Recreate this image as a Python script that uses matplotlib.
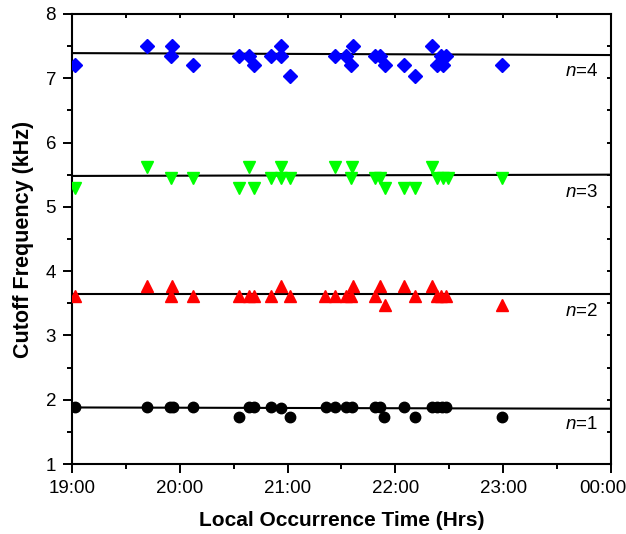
import matplotlib.pyplot as plt
import numpy as np
from matplotlib.ticker import MultipleLocator
from matplotlib.transforms import ScaledTranslation

plt.rcParams['font.family'] = ['Liberation Sans', 'DejaVu Sans']
plt.rcParams['mathtext.fontset'] = 'custom'
plt.rcParams['mathtext.rm'] = 'Liberation Sans'
plt.rcParams['mathtext.it'] = 'Liberation Sans:italic'

# hours after midnight of the day (19 = 19:00, 24 = 00:00)
t4 = [19.03, 19.70, 19.93, 19.92, 20.12, 20.55, 20.64, 20.69, 20.85, 20.94, 20.94, 21.02,
      21.44, 21.54, 21.61, 21.59, 21.81, 21.86, 21.90, 22.08, 22.18, 22.34, 22.42, 22.47,
      22.39, 22.44, 22.99]
f4 = [7.20, 7.50, 7.50, 7.35, 7.20, 7.35, 7.35, 7.20, 7.35, 7.50, 7.35, 7.04,
      7.35, 7.35, 7.50, 7.20, 7.35, 7.35, 7.20, 7.20, 7.04, 7.50, 7.35, 7.35,
      7.20, 7.20, 7.20]

t3 = [19.03, 19.70, 19.92, 20.12, 20.55, 20.64, 20.69, 20.85, 20.94, 20.94, 21.02,
      21.44, 21.60, 21.59, 21.81, 21.86, 21.90, 22.08, 22.18, 22.34, 22.39, 22.44,
      22.49, 22.99]
f3 = [5.30, 5.62, 5.45, 5.45, 5.30, 5.62, 5.30, 5.45, 5.62, 5.45, 5.45,
      5.62, 5.62, 5.45, 5.45, 5.45, 5.30, 5.30, 5.30, 5.62, 5.45, 5.45,
      5.45, 5.45]

t2 = [19.03, 19.70, 19.93, 19.92, 20.12, 20.55, 20.64, 20.69, 20.85, 20.94, 21.02,
      21.35, 21.44, 21.54, 21.59, 21.61, 21.81, 21.86, 21.90, 22.08, 22.18, 22.34,
      22.39, 22.42, 22.47, 22.99]
f2 = [3.61, 3.77, 3.77, 3.61, 3.61, 3.61, 3.61, 3.61, 3.61, 3.77, 3.61,
      3.61, 3.61, 3.61, 3.61, 3.77, 3.61, 3.77, 3.47, 3.77, 3.61, 3.77,
      3.61, 3.61, 3.61, 3.47]

t1 = [19.03, 19.70, 19.91, 19.94, 20.12, 20.55, 20.64, 20.69, 20.85, 20.94, 21.02,
      21.36, 21.44, 21.54, 21.60, 21.81, 21.86, 21.89, 22.08, 22.18, 22.34, 22.39,
      22.43, 22.47, 22.99]
f1 = [1.88, 1.88, 1.88, 1.88, 1.88, 1.73, 1.88, 1.88, 1.88, 1.87, 1.73,
      1.88, 1.88, 1.88, 1.88, 1.88, 1.88, 1.73, 1.88, 1.73, 1.88, 1.88,
      1.88, 1.88, 1.73]

# fitted lines: value at 19:00 and at 00:00
fit_x = [19, 24]
fit4 = [7.39, 7.36]
fit3 = [5.48, 5.50]
fit2 = [3.64, 3.64]
fit1 = [1.88, 1.86]

labels = ['$\\mathit{n}$=4', '$\\mathit{n}$=3', '$\\mathit{n}$=2', '$\\mathit{n}$=1']
label_y = [7.10, 5.22, 3.37, 1.61]

fig = plt.figure(figsize=(6.26, 5.34), dpi=100)
ax = fig.add_axes([0.115, 0.131, 0.861, 0.843])

for fx in [fit4, fit3, fit2, fit1]:
    ax.plot(fit_x, fx, color='black', lw=1.5, zorder=2)

ax.plot(t4, f4, 'D', color='#0000ff', ms=7, ls='none', zorder=3)
ax.plot(t3, f3, 'v', color='#00ff00', ms=9, ls='none', zorder=3)
ax.plot(t2, f2, '^', color='#ff0000', ms=9, ls='none', zorder=3)
ax.plot(t1, f1, 'o', color='black', ms=7.5, ls='none', zorder=3)

for lab, ly in zip(labels, label_y):
    ax.text(23.88, ly, lab, ha='right', va='center', fontsize=13.5)

ax.set_xlim(19, 24)
ax.set_ylim(1, 8)
ax.xaxis.set_major_locator(MultipleLocator(1))
ax.xaxis.set_minor_locator(MultipleLocator(0.5))
ax.yaxis.set_major_locator(MultipleLocator(1))
ax.yaxis.set_minor_locator(MultipleLocator(0.5))
ax.set_xticks([19, 20, 21, 22, 23, 24])
ax.set_xticklabels(['19:00', '20:00', '21:00', '22:00', '23:00', '00:00'])

ax.tick_params(which='both', top=True, right=True, width=1.4, labelsize=13.5)
ax.tick_params(which='major', direction='out', length=6.5, pad=5)
ax.tick_params(which='minor', direction='out', length=3.5)
# ticks on top and right point inward
for t in ax.xaxis.get_major_ticks() + ax.xaxis.get_minor_ticks():
    t.tick2line.set_marker(3)
    t.tick2line.set_markersize(3)
for t in ax.yaxis.get_major_ticks() + ax.yaxis.get_minor_ticks():
    t.tick2line.set_marker(0)
    t.tick2line.set_markersize(3)

# keep the last label inside the figure
last = ax.get_xticklabels()[-1]
last.set_transform(last.get_transform() + ScaledTranslation(-8 / 100, 0, fig.dpi_scale_trans))

for s in ax.spines.values():
    s.set_linewidth(1.5)

ax.set_xlabel('Local Occurrence Time (Hrs)', fontsize=15, fontweight='bold', labelpad=10)
ax.set_ylabel('Cutoff Frequency (kHz)', fontsize=15.5, fontweight='bold', labelpad=8)

fig.savefig('out.png', dpi=100)
